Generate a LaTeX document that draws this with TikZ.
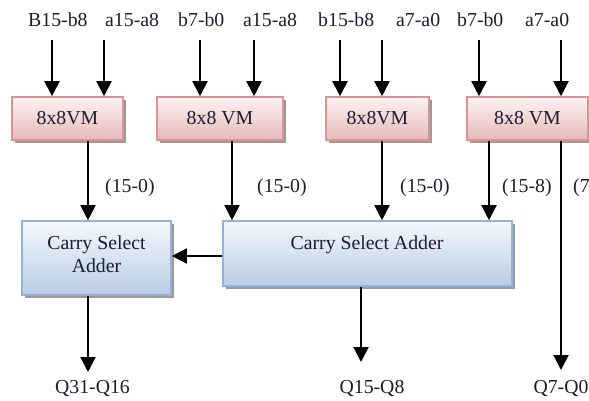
\documentclass[tikz,border=0pt]{standalone}
\usepackage{fontspec}
\setmainfont{Liberation Serif}
\usetikzlibrary{arrows.meta,shadows}
\definecolor{txt}{HTML}{1C1C33}
\definecolor{vmedge}{HTML}{D99594}
\definecolor{vmtop}{HTML}{FDF3F3}
\definecolor{vmbot}{HTML}{E6B9B8}
\definecolor{csedge}{HTML}{95B3D7}
\definecolor{cstop}{HTML}{F4F8FC}
\definecolor{csbot}{HTML}{B9CDE5}
\definecolor{shd}{HTML}{9A9A9A}
\tikzset{
  lbl/.style={text=txt, font=\fontsize{19.8}{23}\selectfont, inner sep=0pt},
  boxshadow/.style={drop shadow={shadow xshift=3pt, shadow yshift=-3pt, fill=shd, opacity=1}},
  vmbox/.style={draw=vmedge, line width=1.6pt, top color=vmtop, bottom color=vmbot,
    minimum height=43pt, inner sep=0pt, boxshadow, lbl},
  csbox/.style={draw=csedge, line width=1.6pt, top color=cstop, bottom color=csbot,
    inner sep=0pt, boxshadow},
  arr/.style={line width=2pt, black, -{Triangle[width=15pt,length=15pt]}},
}
\begin{document}
\begin{tikzpicture}[x=1pt,y=-1pt]
\useasboundingbox (0,0) rectangle (589,401);
\clip (0,0) rectangle (589,401);

% multipliers
\node[vmbox, minimum width=111pt] (vm1) at (67.5,118.5) {8x8VM};
\node[vmbox, minimum width=126pt] (vm2) at (220,118.5) {8x8 VM};
\node[vmbox, minimum width=103pt] (vm3) at (377.5,118.5) {8x8VM};
\node[vmbox, minimum width=121pt] (vm4) at (527.5,118.5) {8x8 VM};

% adders
\node[csbox, minimum width=149pt, minimum height=74pt] (csa1) at (96.5,258) {};
\node[csbox, minimum width=289pt, minimum height=65pt] (csa2) at (367.5,253.5) {};
\node[lbl, align=center, anchor=base] (csa1t) at (96.5,272) {Carry Select\\Adder};
\node[lbl, anchor=base] (csa2t) at (367,249) {Carry Select Adder};

% operand labels
\node[lbl, anchor=base west] (in1) at (28,27) {B15-b8};
\node[lbl, anchor=base west] (in2) at (105,27) {a15-a8};
\node[lbl, anchor=base west] (in3) at (178,27) {b7-b0};
\node[lbl, anchor=base west] (in4) at (243,27) {a15-a8};
\node[lbl, anchor=base west] (in5) at (318,27) {b15-b8};
\node[lbl, anchor=base west] (in6) at (396,27) {a7-a0};
\node[lbl, anchor=base west] (in7) at (457,27) {b7-b0};
\node[lbl, anchor=base west] (in8) at (525,27) {a7-a0};

% operand arrow starts
\coordinate (s1) at (52,40);
\coordinate (s2) at (104,40);
\coordinate (s3) at (200,40);
\coordinate (s4) at (254,40);
\coordinate (s5) at (340,40);
\coordinate (s6) at (382,40);
\coordinate (s7) at (479,40);
\coordinate (s8) at (561,40);

\draw[arr] (s1) -- (s1 |- vm1.north);
\draw[arr] (s2) -- (s2 |- vm1.north);
\draw[arr] (s3) -- (s3 |- vm2.north);
\draw[arr] (s4) -- (s4 |- vm2.north);
\draw[arr] (s5) -- (s5 |- vm3.north);
\draw[arr] (s6) -- (s6 |- vm3.north);
\draw[arr] (s7) -- (s7 |- vm4.north);
\draw[arr] (s8) -- (s8 |- vm4.north);

% partial products
\draw[arr] (vm1.south -| 88,0) -- (csa1.north -| 88,0);
\draw[arr] (vm2.south -| 232,0) -- (csa2.north -| 232,0);
\draw[arr] (vm3.south -| 382,0) -- (csa2.north -| 382,0);
\draw[arr] (vm4.south -| 489,0) -- (csa2.north -| 489,0);

\node[lbl, anchor=base west] (p1) at (105,193) {(15-0)};
\node[lbl, anchor=base west] (p2) at (257,193) {(15-0)};
\node[lbl, anchor=base west] (p3) at (400,193) {(15-0)};
\node[lbl, anchor=base west] (p4) at (502,193) {(15-8)};
\node[lbl, anchor=base west] (p5) at (573,193) {(7};

% carry between adders
\draw[arr] (csa2.west |- 0,256) -- (csa1.east |- 0,256);

% results
\node[lbl, anchor=base] (q1) at (92.5,393) {Q31-Q16};
\node[lbl, anchor=base] (q2) at (372,393) {Q15-Q8};
\node[lbl, anchor=base] (q3) at (561,393) {Q7-Q0};

\draw[arr] (csa1.south -| 88,0) -- (88,372);
\draw[arr] (csa2.south -| 361,0) -- (361,362);
\draw[arr] (vm4.south -| 561,0) -- (561,370);
\end{tikzpicture}
\end{document}
